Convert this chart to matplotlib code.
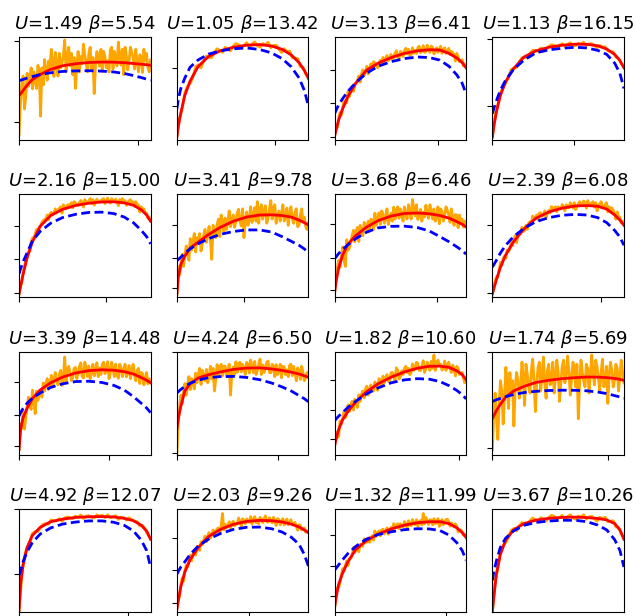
import numpy as np
import matplotlib
matplotlib.use("Agg")
import matplotlib.pyplot as plt

# ---- parameters shown in the panel titles ----
U_vals = [1.49, 1.05, 3.13, 1.13, 2.16, 3.41, 3.68, 2.39,
          3.39, 4.24, 1.82, 1.74, 4.92, 2.03, 1.32, 3.67]
beta_vals = [5.54, 13.42, 6.41, 16.15, 15.00, 9.78, 6.46, 6.08,
             14.48, 6.50, 10.60, 5.69, 12.07, 9.26, 11.99, 10.26]

# ---- x positions (fraction of each panel's x range) ----
curve_x = [0, 0.012, 0.03, 0.06, 0.10, 0.16, 0.24, 0.33, 0.43, 0.53,
           0.63, 0.72, 0.80, 0.87, 0.93, 0.97, 1.0]

# ---- fitted curve (red) ----
fit_01 = [0.435, 0.45, 0.48, 0.53, 0.585, 0.635, 0.685, 0.72, 0.74, 0.752, 0.756, 0.755, 0.75, 0.742, 0.735, 0.73, 0.725]
fit_02 = [0.03, 0.14, 0.26, 0.43, 0.57, 0.71, 0.81, 0.865, 0.90, 0.92, 0.926, 0.912, 0.88, 0.825, 0.75, 0.675, 0.597]
fit_03 = [0.04, 0.10, 0.19, 0.30, 0.42, 0.55, 0.675, 0.745, 0.80, 0.84, 0.865, 0.876, 0.873, 0.84, 0.795, 0.75, 0.70]
fit_04 = [0.03, 0.14, 0.27, 0.43, 0.565, 0.69, 0.805, 0.865, 0.90, 0.92, 0.93, 0.928, 0.915, 0.882, 0.83, 0.77, 0.70]
fit_05 = [0.035, 0.11, 0.22, 0.38, 0.535, 0.69, 0.795, 0.855, 0.893, 0.915, 0.927, 0.928, 0.918, 0.895, 0.85, 0.80, 0.74]
fit_06 = [0.03, 0.20, 0.32, 0.40, 0.478, 0.535, 0.61, 0.68, 0.74, 0.78, 0.80, 0.802, 0.795, 0.78, 0.75, 0.725, 0.703]
fit_07 = [0.05, 0.16, 0.28, 0.41, 0.515, 0.60, 0.68, 0.745, 0.79, 0.815, 0.82, 0.812, 0.795, 0.77, 0.735, 0.71, 0.684]
fit_08 = [0.035, 0.09, 0.17, 0.29, 0.41, 0.54, 0.665, 0.768, 0.83, 0.867, 0.888, 0.892, 0.885, 0.857, 0.80, 0.75, 0.70]
fit_09 = [0.055, 0.25, 0.36, 0.45, 0.545, 0.63, 0.70, 0.755, 0.795, 0.818, 0.826, 0.822, 0.808, 0.785, 0.75, 0.725, 0.70]
fit_10 = [0.25, 0.36, 0.47, 0.62, 0.69, 0.745, 0.778, 0.805, 0.83, 0.843, 0.845, 0.835, 0.82, 0.803, 0.785, 0.768, 0.753]
fit_11 = [0.087, 0.16, 0.245, 0.34, 0.42, 0.515, 0.61, 0.69, 0.755, 0.805, 0.842, 0.86, 0.862, 0.85, 0.815, 0.78, 0.73]
fit_12 = [0.357, 0.385, 0.43, 0.49, 0.56, 0.62, 0.665, 0.703, 0.725, 0.74, 0.75, 0.756, 0.755, 0.75, 0.742, 0.733, 0.724]
fit_13 = [0.02, 0.28, 0.46, 0.625, 0.745, 0.825, 0.88, 0.905, 0.922, 0.928, 0.93, 0.926, 0.913, 0.89, 0.845, 0.79, 0.71]
fit_14 = [0.03, 0.12, 0.25, 0.39, 0.51, 0.625, 0.735, 0.805, 0.855, 0.883, 0.893, 0.89, 0.878, 0.857, 0.828, 0.80, 0.774]
fit_15 = [0.05, 0.15, 0.27, 0.38, 0.49, 0.61, 0.695, 0.76, 0.81, 0.847, 0.87, 0.88, 0.88, 0.862, 0.82, 0.775, 0.726]
fit_16 = [0.016, 0.16, 0.37, 0.56, 0.70, 0.80, 0.862, 0.895, 0.913, 0.922, 0.925, 0.92, 0.912, 0.897, 0.862, 0.80, 0.71]

# ---- reference curve (blue dashed) ----
ref_01 = [0.575, 0.58, 0.587, 0.60, 0.615, 0.635, 0.652, 0.665, 0.67, 0.672, 0.668, 0.66, 0.645, 0.625, 0.605, 0.59, 0.578]
ref_02 = [0.30, 0.40, 0.50, 0.60, 0.705, 0.775, 0.833, 0.865, 0.885, 0.893, 0.878, 0.845, 0.79, 0.71, 0.60, 0.48, 0.33]
ref_03 = [0.255, 0.29, 0.34, 0.40, 0.47, 0.555, 0.645, 0.715, 0.76, 0.79, 0.805, 0.80, 0.775, 0.715, 0.63, 0.55, 0.446]
ref_04 = [0.255, 0.31, 0.38, 0.48, 0.58, 0.685, 0.775, 0.845, 0.875, 0.89, 0.90, 0.893, 0.87, 0.83, 0.745, 0.645, 0.50]
ref_05 = [0.23, 0.28, 0.345, 0.43, 0.545, 0.64, 0.72, 0.775, 0.807, 0.825, 0.828, 0.814, 0.78, 0.725, 0.65, 0.59, 0.52]
ref_06 = [0.355, 0.37, 0.39, 0.43, 0.47, 0.52, 0.57, 0.612, 0.64, 0.655, 0.655, 0.635, 0.59, 0.545, 0.505, 0.47, 0.435]
ref_07 = [0.375, 0.395, 0.425, 0.465, 0.51, 0.57, 0.632, 0.675, 0.69, 0.692, 0.678, 0.645, 0.59, 0.54, 0.49, 0.455, 0.42]
ref_08 = [0.295, 0.32, 0.36, 0.43, 0.505, 0.59, 0.67, 0.735, 0.775, 0.798, 0.806, 0.80, 0.775, 0.725, 0.65, 0.585, 0.506]
ref_09 = [0.376, 0.41, 0.45, 0.50, 0.55, 0.60, 0.655, 0.69, 0.712, 0.715, 0.703, 0.675, 0.63, 0.565, 0.50, 0.455, 0.41]
ref_10 = [0.60, 0.615, 0.635, 0.665, 0.695, 0.725, 0.75, 0.76, 0.762, 0.752, 0.73, 0.698, 0.66, 0.62, 0.575, 0.545, 0.516]
ref_11 = [0.33, 0.35, 0.375, 0.41, 0.46, 0.52, 0.59, 0.65, 0.70, 0.728, 0.74, 0.735, 0.712, 0.672, 0.625, 0.585, 0.543]
ref_12 = [0.52, 0.525, 0.535, 0.548, 0.565, 0.585, 0.605, 0.617, 0.625, 0.628, 0.627, 0.622, 0.61, 0.595, 0.575, 0.562, 0.55]
ref_13 = [0.36, 0.41, 0.49, 0.585, 0.675, 0.76, 0.82, 0.857, 0.877, 0.888, 0.888, 0.875, 0.845, 0.79, 0.70, 0.60, 0.44]
ref_14 = [0.37, 0.40, 0.44, 0.49, 0.56, 0.64, 0.71, 0.765, 0.805, 0.826, 0.828, 0.812, 0.78, 0.73, 0.66, 0.56, 0.45]
ref_15 = [0.41, 0.43, 0.46, 0.51, 0.57, 0.64, 0.71, 0.755, 0.782, 0.803, 0.812, 0.81, 0.795, 0.75, 0.675, 0.60, 0.506]
ref_16 = [0.31, 0.40, 0.50, 0.63, 0.72, 0.79, 0.845, 0.873, 0.887, 0.894, 0.894, 0.88, 0.848, 0.80, 0.705, 0.60, 0.44]

# ---- observed series (orange), evenly spaced samples per panel ----
obs_01 = [0.05, 0.35, 0.541, 0.62, 0.30, 0.42, 0.648, 0.52, 0.599, 0.70, 0.495, 0.66, 0.577, 0.50, 0.724, 0.68, 0.23, 0.70, 0.534, 0.78,
          0.676, 0.58, 0.767, 0.70, 0.88, 0.74, 0.616, 0.85, 0.755, 0.62, 0.841, 0.70, 0.746, 0.82, 0.97, 0.66, 0.805, 0.90, 0.719, 0.84,
          0.632, 0.80, 0.50, 0.72, 0.859, 0.66, 0.81, 0.74, 0.93, 0.82, 0.75, 0.66, 0.843, 0.90, 0.675, 0.80, 0.45, 0.74, 0.858, 0.80,
          0.716, 0.88, 0.665, 0.86, 0.808, 0.70, 0.769, 0.66, 0.872, 0.90, 0.69, 0.86, 0.793, 0.72, 0.95, 0.82, 0.726, 0.88, 0.633, 0.90,
          0.813, 0.68, 0.772, 0.90, 0.847, 0.80, 0.689, 0.88, 0.752, 0.66, 0.827, 0.80, 0.656, 0.88, 0.771, 0.84, 0.703, 0.66, 0.777]
obs_02 = [0.03, 0.21, 0.31, 0.46, 0.52, 0.55, 0.61, 0.71, 0.73, 0.70, 0.77, 0.815, 0.80, 0.80, 0.85, 0.885, 0.87, 0.85, 0.90, 0.88,
          0.865, 0.91, 0.936, 0.926, 0.898, 0.916, 0.945, 0.90, 0.93, 0.952, 0.914, 0.90, 0.936, 0.923, 0.948, 0.895, 0.917, 0.92, 0.883, 0.849,
          0.886, 0.858, 0.863, 0.80, 0.794, 0.79, 0.712, 0.706, 0.642, 0.611]
obs_03 = [0.04, 0.14, 0.12, 0.22, 0.265, 0.24, 0.31, 0.38, 0.355, 0.36, 0.47, 0.42, 0.485, 0.52, 0.47, 0.53, 0.555, 0.58, 0.62, 0.56,
          0.64, 0.68, 0.625, 0.66, 0.715, 0.64, 0.695, 0.74, 0.697, 0.76, 0.748, 0.72, 0.70, 0.73, 0.774, 0.74, 0.801, 0.74, 0.787, 0.82,
          0.768, 0.79, 0.83, 0.78, 0.803, 0.84, 0.866, 0.80, 0.789, 0.86, 0.847, 0.81, 0.865, 0.89, 0.835, 0.88, 0.82, 0.83, 0.895, 0.84,
          0.87, 0.84, 0.895, 0.91, 0.848, 0.86, 0.915, 0.85, 0.858, 0.92, 0.88, 0.85, 0.911, 0.90, 0.835, 0.86, 0.894, 0.85, 0.883, 0.91,
          0.841, 0.88, 0.895, 0.84, 0.861, 0.89, 0.829, 0.86, 0.848, 0.83, 0.765, 0.84, 0.81, 0.76, 0.767, 0.78, 0.718, 0.74, 0.71]
obs_04 = [0.03, 0.233, 0.341, 0.455, 0.512, 0.555, 0.611, 0.683, 0.701, 0.705, 0.755, 0.80, 0.798, 0.805, 0.841, 0.87, 0.869, 0.86, 0.891, 0.883,
          0.875, 0.907, 0.924, 0.919, 0.903, 0.916, 0.935, 0.909, 0.928, 0.944, 0.921, 0.915, 0.939, 0.931, 0.949, 0.917, 0.933, 0.935, 0.914, 0.895,
          0.918, 0.901, 0.905, 0.866, 0.859, 0.855, 0.804, 0.793, 0.743, 0.709]
obs_05 = [0.035, 0.12, 0.14, 0.24, 0.303, 0.36, 0.388, 0.44, 0.448, 0.54, 0.576, 0.58, 0.611, 0.66, 0.618, 0.68, 0.69, 0.73, 0.744, 0.76,
          0.762, 0.80, 0.756, 0.81, 0.827, 0.80, 0.816, 0.86, 0.82, 0.85, 0.863, 0.88, 0.819, 0.90, 0.877, 0.86, 0.897, 0.90, 0.885, 0.92,
          0.869, 0.93, 0.917, 0.90, 0.893, 0.92, 0.942, 0.92, 0.878, 0.95, 0.923, 0.92, 0.935, 0.96, 0.91, 0.95, 0.896, 0.93, 0.954, 0.93,
          0.933, 0.94, 0.951, 0.96, 0.911, 0.94, 0.964, 0.93, 0.916, 0.96, 0.932, 0.94, 0.954, 0.93, 0.892, 0.95, 0.937, 0.96, 0.926, 0.94,
          0.893, 0.92, 0.938, 0.95, 0.911, 0.93, 0.885, 0.93, 0.898, 0.90, 0.828, 0.88, 0.859, 0.86, 0.819, 0.82, 0.768, 0.78, 0.748]
obs_06 = [0.03, 0.30, 0.22, 0.32, 0.42, 0.30, 0.42, 0.50, 0.41, 0.36, 0.57, 0.46, 0.54, 0.62, 0.44, 0.58, 0.535, 0.62, 0.45, 0.52,
          0.606, 0.66, 0.535, 0.60, 0.69, 0.56, 0.37, 0.70, 0.63, 0.58, 0.71, 0.76, 0.59, 0.80, 0.73, 0.64, 0.772, 0.66, 0.735, 0.84,
          0.687, 0.76, 0.80, 0.68, 0.738, 0.82, 0.856, 0.74, 0.694, 0.86, 0.58, 0.74, 0.83, 0.70, 0.764, 0.88, 0.728, 0.80, 0.872, 0.74,
          0.93, 0.72, 0.86, 0.90, 0.76, 0.84, 0.891, 0.72, 0.772, 0.86, 0.94, 0.76, 0.87, 0.90, 0.719, 0.80, 0.837, 0.74, 0.816, 0.90,
          0.742, 0.78, 0.867, 0.70, 0.812, 0.88, 0.766, 0.72, 0.826, 0.86, 0.686, 0.70, 0.794, 0.86, 0.74, 0.78, 0.688, 0.66, 0.723]
obs_07 = [0.05, 0.20, 0.284, 0.36, 0.294, 0.40, 0.491, 0.36, 0.30, 0.56, 0.457, 0.48, 0.532, 0.60, 0.652, 0.54, 0.645, 0.68, 0.543, 0.70,
          0.654, 0.60, 0.728, 0.70, 0.653, 0.74, 0.644, 0.76, 0.749, 0.66, 0.818, 0.70, 0.763, 0.82, 0.708, 0.84, 0.816, 0.72, 0.762, 0.86,
          0.708, 0.76, 0.817, 0.74, 0.876, 0.76, 0.845, 0.88, 0.769, 0.86, 0.81, 0.74, 0.878, 0.80, 0.762, 0.90, 0.835, 0.76, 0.95, 0.86,
          0.792, 0.90, 0.757, 0.80, 0.854, 0.74, 0.825, 0.78, 0.895, 0.82, 0.767, 0.90, 0.836, 0.76, 0.859, 0.74, 0.782, 0.88, 0.715, 0.86,
          0.834, 0.74, 0.80, 0.88, 0.846, 0.80, 0.729, 0.86, 0.762, 0.70, 0.805, 0.80, 0.677, 0.80, 0.744, 0.76, 0.682, 0.74, 0.72]
obs_08 = [0.035, 0.10, 0.155, 0.20, 0.195, 0.26, 0.34, 0.31, 0.375, 0.40, 0.38, 0.46, 0.445, 0.47, 0.54, 0.50, 0.565, 0.60, 0.53, 0.60,
          0.615, 0.62, 0.68, 0.64, 0.65, 0.70, 0.66, 0.72, 0.735, 0.71, 0.79, 0.76, 0.778, 0.80, 0.754, 0.82, 0.821, 0.79, 0.799, 0.84,
          0.776, 0.82, 0.845, 0.82, 0.882, 0.85, 0.87, 0.88, 0.832, 0.88, 0.86, 0.86, 0.902, 0.88, 0.841, 0.90, 0.886, 0.87, 0.92, 0.90,
          0.869, 0.92, 0.853, 0.88, 0.909, 0.93, 0.895, 0.90, 0.936, 0.92, 0.867, 0.94, 0.906, 0.89, 0.919, 0.93, 0.877, 0.92, 0.84, 0.90,
          0.904, 0.93, 0.88, 0.87, 0.901, 0.92, 0.83, 0.88, 0.835, 0.87, 0.845, 0.82, 0.759, 0.83, 0.778, 0.78, 0.723, 0.74, 0.72]
obs_09 = [0.055, 0.30, 0.255, 0.42, 0.25, 0.36, 0.468, 0.56, 0.473, 0.44, 0.628, 0.52, 0.40, 0.62, 0.528, 0.58, 0.63, 0.56, 0.699, 0.62,
          0.695, 0.74, 0.636, 0.68, 0.772, 0.66, 0.724, 0.80, 0.71, 0.68, 0.785, 0.82, 0.674, 0.74, 0.95, 0.70, 0.833, 0.86, 0.796, 0.72,
          0.75, 0.84, 0.849, 0.74, 0.79, 0.86, 0.894, 0.76, 0.746, 0.90, 0.84, 0.76, 0.863, 0.74, 0.802, 0.88, 0.767, 0.82, 0.895, 0.76,
          0.843, 0.78, 0.88, 0.90, 0.789, 0.82, 0.905, 0.74, 0.796, 0.90, 0.831, 0.76, 0.882, 0.78, 0.744, 0.88, 0.848, 0.76, 0.827, 0.88,
          0.758, 0.80, 0.868, 0.74, 0.815, 0.88, 0.77, 0.72, 0.821, 0.84, 0.693, 0.80, 0.79, 0.68, 0.741, 0.80, 0.69, 0.74, 0.718]
obs_10 = [0.00, 0.30, 0.458, 0.58, 0.498, 0.62, 0.692, 0.58, 0.684, 0.76, 0.634, 0.74, 0.694, 0.64, 0.794, 0.70, 0.785, 0.84, 0.683, 0.82,
          0.772, 0.72, 0.829, 0.70, 0.754, 0.86, 0.736, 0.84, 0.62, 0.74, 0.877, 0.76, 0.821, 0.88, 0.769, 0.86, 0.862, 0.76, 0.812, 0.88,
          0.58, 0.80, 0.854, 0.78, 0.904, 0.80, 0.875, 0.90, 0.806, 0.88, 0.84, 0.78, 0.899, 0.88, 0.795, 0.92, 0.86, 0.80, 0.908, 0.78,
          0.821, 0.88, 0.93, 0.78, 0.874, 0.80, 0.848, 0.90, 0.91, 0.80, 0.796, 0.88, 0.856, 0.76, 0.877, 0.78, 0.809, 0.88, 0.749, 0.86,
          0.856, 0.78, 0.827, 0.76, 0.87, 0.88, 0.769, 0.86, 0.803, 0.72, 0.845, 0.82, 0.733, 0.86, 0.798, 0.72, 0.747, 0.80, 0.785]
obs_11 = [0.087, 0.22, 0.165, 0.18, 0.329, 0.30, 0.354, 0.42, 0.359, 0.40, 0.485, 0.42, 0.478, 0.52, 0.434, 0.54, 0.515, 0.46, 0.582, 0.52,
          0.586, 0.62, 0.553, 0.64, 0.666, 0.58, 0.642, 0.68, 0.641, 0.62, 0.708, 0.66, 0.627, 0.74, 0.728, 0.66, 0.764, 0.70, 0.742, 0.78,
          0.714, 0.72, 0.797, 0.80, 0.758, 0.72, 0.845, 0.82, 0.736, 0.76, 0.816, 0.78, 0.84, 0.86, 0.799, 0.84, 0.778, 0.80, 0.884, 0.82,
          0.849, 0.90, 0.884, 0.82, 0.819, 0.86, 0.914, 0.80, 0.835, 0.90, 0.867, 0.82, 0.909, 0.84, 0.97, 0.82, 0.889, 0.92, 0.876, 0.88,
          0.824, 0.84, 0.912, 0.82, 0.873, 0.90, 0.838, 0.80, 0.872, 0.84, 0.766, 0.86, 0.842, 0.78, 0.795, 0.80, 0.742, 0.70, 0.744]
obs_12 = [0.05, 0.40, 0.60, 0.35, 0.15, 0.50, 0.72, 0.62, 0.30, 0.55, 0.85, 0.68, 0.45, 0.80, 0.62, 0.72, 0.28, 0.66, 0.80, 0.72,
          0.55, 0.66, 0.90, 0.75, 0.48, 0.88, 0.78, 0.66, 0.60, 0.82, 0.93, 0.72, 0.42, 0.70, 0.85, 0.90, 0.62, 0.78, 0.95, 0.70,
          0.55, 0.82, 0.88, 0.68, 0.70, 0.90, 0.60, 0.76, 0.92, 0.80, 0.52, 0.70, 0.86, 0.92, 0.70, 0.78, 0.96, 0.82, 0.58, 0.74,
          0.90, 0.84, 0.66, 0.88, 0.35, 0.70, 0.92, 0.80, 0.72, 0.66, 0.88, 0.84, 0.60, 0.78, 0.97, 0.80, 0.68, 0.92, 0.85, 0.74,
          0.62, 0.80, 0.93, 0.66, 0.70, 0.86, 0.50, 0.78, 0.90, 0.82, 0.66, 0.72, 0.88, 0.84, 0.62, 0.76, 0.92, 0.80, 0.70]
obs_13 = [0.02, 0.349, 0.545, 0.631, 0.683, 0.767, 0.784, 0.785, 0.825, 0.855, 0.862, 0.856, 0.898, 0.889, 0.889, 0.91, 0.885, 0.917, 0.926, 0.919,
          0.909, 0.935, 0.921, 0.946, 0.911, 0.934, 0.939, 0.924, 0.916, 0.947, 0.934, 0.943, 0.92, 0.948, 0.92, 0.928, 0.939, 0.902, 0.926, 0.918,
          0.897, 0.919, 0.901, 0.882, 0.882, 0.839, 0.844, 0.808, 0.756, 0.714]
obs_14 = [0.03, 0.12, 0.155, 0.26, 0.335, 0.30, 0.40, 0.46, 0.44, 0.50, 0.555, 0.50, 0.57, 0.61, 0.555, 0.64, 0.625, 0.60, 0.685, 0.66,
          0.70, 0.74, 0.685, 0.74, 0.775, 0.72, 0.755, 0.80, 0.758, 0.79, 0.81, 0.82, 0.76, 0.84, 0.96, 0.80, 0.855, 0.82, 0.84, 0.88,
          0.82, 0.86, 0.885, 0.84, 0.855, 0.86, 0.916, 0.88, 0.837, 0.91, 0.893, 0.86, 0.908, 0.88, 0.875, 0.93, 0.857, 0.90, 0.929, 0.87,
          0.901, 0.86, 0.923, 0.91, 0.872, 0.91, 0.937, 0.88, 0.876, 0.92, 0.895, 0.87, 0.923, 0.89, 0.844, 0.91, 0.901, 0.85, 0.888, 0.91,
          0.848, 0.88, 0.906, 0.85, 0.875, 0.90, 0.848, 0.86, 0.873, 0.84, 0.798, 0.85, 0.847, 0.80, 0.812, 0.82, 0.777, 0.79, 0.784]
obs_15 = [0.05, 0.16, 0.24, 0.24, 0.29, 0.36, 0.425, 0.40, 0.455, 0.50, 0.455, 0.52, 0.525, 0.55, 0.63, 0.58, 0.635, 0.60, 0.588, 0.66,
          0.66, 0.64, 0.714, 0.68, 0.68, 0.72, 0.68, 0.72, 0.745, 0.70, 0.79, 0.74, 0.77, 0.79, 0.743, 0.80, 0.808, 0.76, 0.784, 0.82,
          0.759, 0.81, 0.825, 0.79, 0.862, 0.82, 0.849, 0.86, 0.812, 0.86, 0.84, 0.83, 0.882, 0.86, 0.822, 0.89, 0.866, 0.84, 0.901, 0.86,
          0.851, 0.90, 0.835, 0.88, 0.893, 0.85, 0.96, 0.86, 0.922, 0.89, 0.854, 0.90, 0.895, 0.85, 0.91, 0.86, 0.87, 0.91, 0.835, 0.86,
          0.901, 0.85, 0.881, 0.90, 0.905, 0.88, 0.837, 0.87, 0.847, 0.83, 0.86, 0.84, 0.78, 0.79, 0.802, 0.78, 0.749, 0.76, 0.746]
obs_16 = [0.016, 0.298, 0.428, 0.587, 0.649, 0.679, 0.731, 0.796, 0.815, 0.792, 0.839, 0.873, 0.853, 0.853, 0.891, 0.916, 0.901, 0.883, 0.92, 0.903,
          0.885, 0.922, 0.942, 0.932, 0.906, 0.92, 0.943, 0.905, 0.929, 0.948, 0.916, 0.904, 0.936, 0.925, 0.948, 0.905, 0.927, 0.934, 0.908, 0.885,
          0.924, 0.91, 0.924, 0.881, 0.884, 0.89, 0.83, 0.825, 0.764, 0.722]

# ---- tick positions (no tick labels are shown) ----
xtick_2nd = [0.906, 0.75, 0.783, 0.623, 0.664, 0.511, 0.776, 0.827,
             0.685, 0.772, 0.944, 0.88, 0.83, 0.545, 0.845, None]
yticks_list = [[0.17, 0.965], [0.33, 0.695], [0.032, 0.357, 0.68], [0.33, 0.985],
               [0.045, 0.37, 0.695], [0.087, 0.387, 0.70], [0.072, 0.384, 0.717], [0.045, 0.37, 0.70],
               [0.087, 0.386, 0.704], [0.016, 1.0], [0.15, 0.44, 0.73], [0.065, 0.995],
               [0.375, 1.0], [0.094, 0.41, 0.726], [0.16, 0.45, 0.75], []]

fits = [fit_01, fit_02, fit_03, fit_04, fit_05, fit_06, fit_07, fit_08,
        fit_09, fit_10, fit_11, fit_12, fit_13, fit_14, fit_15, fit_16]
refs = [ref_01, ref_02, ref_03, ref_04, ref_05, ref_06, ref_07, ref_08,
        ref_09, ref_10, ref_11, ref_12, ref_13, ref_14, ref_15, ref_16]
obss = [obs_01, obs_02, obs_03, obs_04, obs_05, obs_06, obs_07, obs_08,
        obs_09, obs_10, obs_11, obs_12, obs_13, obs_14, obs_15, obs_16]

fig, axes = plt.subplots(4, 4, figsize=(6.36, 6.16), dpi=100)
fig.subplots_adjust(left=0.030, right=0.981, top=0.940, bottom=0.006,
                    wspace=0.20, hspace=0.53)

for i, ax in enumerate(axes.flat):
    obs_x = np.linspace(0, 1, len(obss[i]))
    ax.plot(obs_x, obss[i], color='orange', lw=2.0)
    ax.plot(curve_x, fits[i], color='red', lw=2.0)
    ax.plot(curve_x, refs[i], color='blue', lw=2.0, ls='--', dashes=(3.2, 1.6))
    ax.set_xlim(0, 1)
    ax.set_ylim(0, 1)
    xt = [0] if xtick_2nd[i] is None else [0, xtick_2nd[i]]
    if i == 15:
        xt = []
    ax.set_xticks(xt)
    ax.set_yticks(yticks_list[i])
    ax.set_xticklabels([])
    ax.set_yticklabels([])
    ax.set_title(r'$U$=%.2f $\beta$=%.2f' % (U_vals[i], beta_vals[i]), fontsize=13)

fig.savefig('out.png', dpi=100)
